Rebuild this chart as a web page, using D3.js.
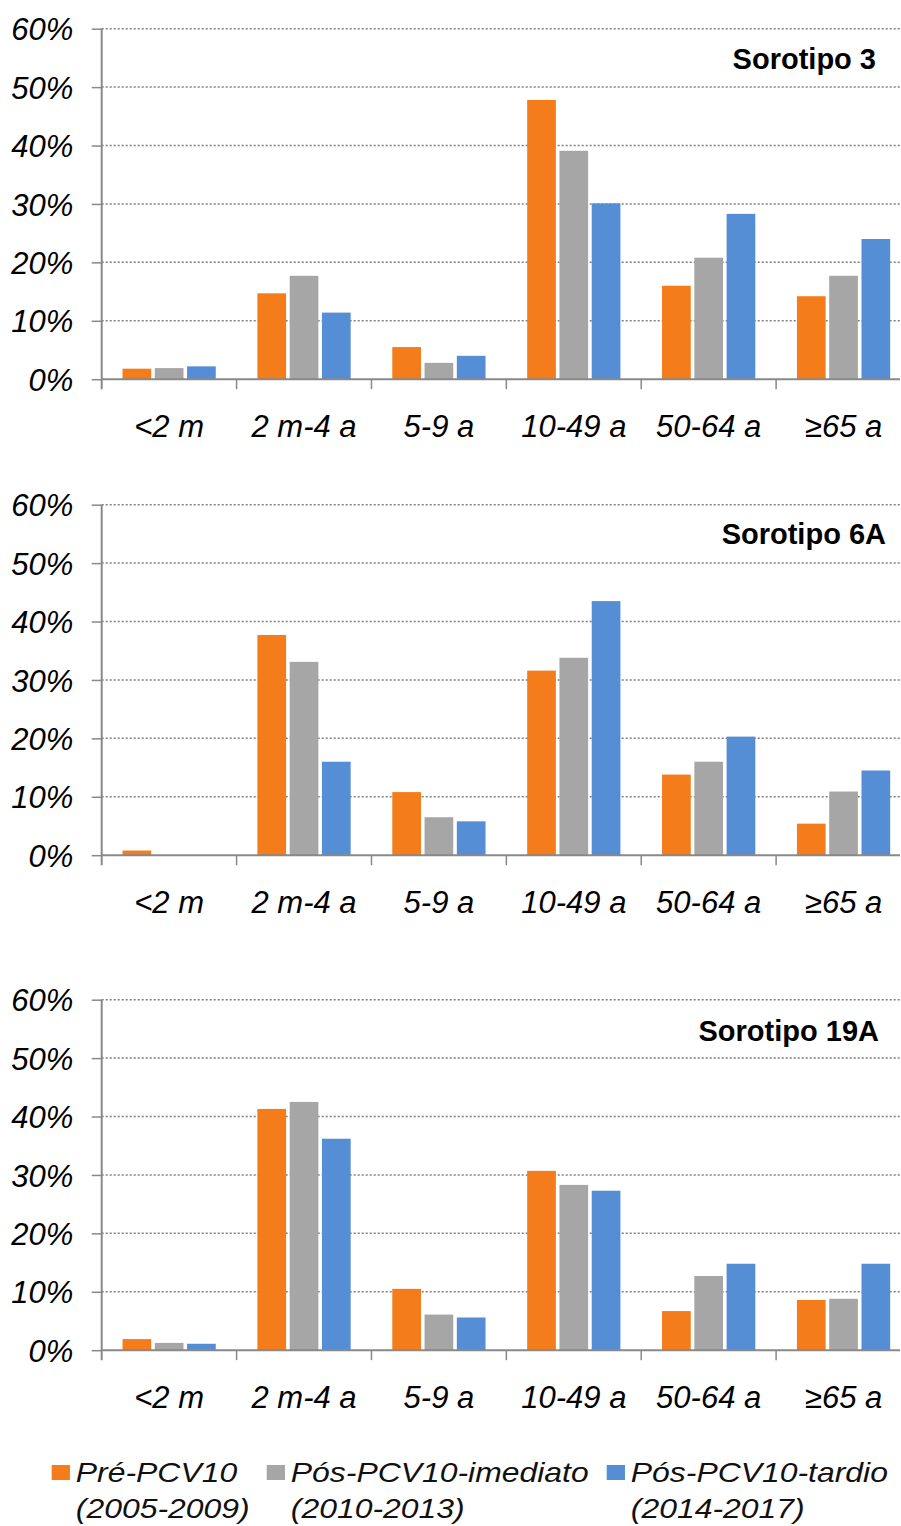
<!DOCTYPE html>
<html>
<head>
<meta charset="utf-8">
<script src="https://cdn.jsdelivr.net/npm/d3@7"></script>
<style>
  html, body { margin: 0; padding: 0; background: #fff; }
  svg { display: block; }
  text { font-family: "Liberation Sans", Arial, sans-serif; }
</style>
</head>
<body>
<svg id="chart" width="901" height="1526"></svg>
<script>
// ---------- DATA ----------
const categories = ["<2 m", "2 m-4 a", "5-9 a", "10-49 a", "50-64 a", "≥65 a"];
const seriesNames = ["Pré-PCV10", "Pós-PCV10-imediato", "Pós-PCV10-tardio"];
const seriesPeriods = ["(2005-2009)", "(2010-2013)", "(2014-2017)"];
const panelTitles = ["Sorotipo 3", "Sorotipo 6A", "Sorotipo 19A"];
const yTickValues = [0, 10, 20, 30, 40, 50, 60];

// values in %, one row per series (Pré, Pós-imediato, Pós-tardio)
const sorotipo3 = [
  [1.8, 14.7, 5.5, 47.8, 16.0, 14.2],
  [1.9, 17.7, 2.8, 39.1, 20.8, 17.7],
  [2.2, 11.4, 4.0, 30.1, 28.3, 24.0]
];
const sorotipo6A = [
  [0.8, 37.7, 10.8, 31.6, 13.8, 5.4],
  [0.0, 33.1, 6.5, 33.8, 16.0, 10.9],
  [0.0, 16.0, 5.8, 43.5, 20.3, 14.5]
];
const sorotipo19A = [
  [1.9, 41.3, 10.5, 30.7, 6.7, 8.6],
  [1.25, 42.5, 6.1, 28.3, 12.7, 8.8],
  [1.1, 36.2, 5.6, 27.3, 14.8, 14.8]
];
const panelData = [sorotipo3, sorotipo6A, sorotipo19A];

// ---------- LAYOUT / STYLE ----------
const colors = ["#F47C1A", "#A6A6A6", "#558ED5"];
const axisColor = "#898989";
const panelTops = [28.7, 504.7, 999.7];
const panelHeight = 350.5;
const plotLeft = 101.7, plotRight = 911, gridRight = 900;
const titleEnds = [876, 886, 879];
const titleOffsets = [40.5, 39.5, 41];

const svg = d3.select("#chart");

const x0 = d3.scaleBand().domain(categories).range([plotLeft, plotRight]).paddingInner(0).paddingOuter(0);
const x1 = d3.scaleBand().domain(seriesNames).range([0, x0.bandwidth()]).paddingInner(0.111).paddingOuter(0.645);

panelData.forEach((data, pi) => {
  const top = panelTops[pi];
  const bottom = top + panelHeight;
  const y = d3.scaleLinear().domain([0, 60]).range([bottom, top]);
  const g = svg.append("g");

  // gridlines (dotted)
  g.append("g").selectAll("line")
    .data(yTickValues.filter(v => v > 0))
    .join("line")
    .attr("x1", plotLeft).attr("x2", gridRight)
    .attr("y1", d => y(d)).attr("y2", d => y(d))
    .attr("stroke", "#7f7f7f").attr("stroke-width", 1.5)
    .attr("stroke-dasharray", "2,2");

  // bars
  const rows = categories.map((c, ci) => ({ c, vals: data.map((s, si) => ({ si, v: s[ci] })) }));
  g.append("g").selectAll("g")
    .data(rows)
    .join("g")
    .attr("transform", d => `translate(${x0(d.c)},0)`)
    .selectAll("rect")
    .data(d => d.vals.filter(e => e.v > 0))
    .join("rect")
    .attr("x", d => x1(seriesNames[d.si]))
    .attr("width", x1.bandwidth())
    .attr("y", d => y(d.v))
    .attr("height", d => y(0) - y(d.v))
    .attr("fill", d => colors[d.si]);

  // y axis
  const yAxis = d3.axisLeft(y).tickValues(yTickValues).tickSize(10).tickPadding(18.5)
    .tickFormat(d => d + "%");
  const ya = g.append("g").attr("transform", `translate(${plotLeft},0)`).call(yAxis);
  ya.select(".domain").remove();
  ya.selectAll(".tick line").attr("stroke", axisColor).attr("stroke-width", 1.5);
  ya.selectAll(".tick text")
    .attr("fill", "#000").attr("font-size", 31).attr("font-style", "italic")
    .attr("dy", "0.36em");

  // vertical axis line (extends down to tick length)
  g.append("line")
    .attr("x1", plotLeft).attr("x2", plotLeft)
    .attr("y1", top).attr("y2", bottom + 10)
    .attr("stroke", axisColor).attr("stroke-width", 2);

  // x axis
  const xAxis = d3.axisBottom(x0).tickSize(0).tickPadding(0);
  const xa = g.append("g").attr("transform", `translate(0,${bottom})`).call(xAxis);
  xa.select(".domain").remove();
  xa.selectAll(".tick text")
    .attr("fill", "#000").attr("font-size", 31).attr("font-style", "italic")
    .attr("y", 57.5).attr("dy", 0);

  g.append("line")
    .attr("x1", plotLeft).attr("x2", gridRight)
    .attr("y1", bottom).attr("y2", bottom)
    .attr("stroke", axisColor).attr("stroke-width", 2);

  // category boundary ticks
  g.append("g").selectAll("line")
    .data(categories.slice(1))
    .join("line")
    .attr("x1", d => x0(d)).attr("x2", d => x0(d))
    .attr("y1", bottom).attr("y2", bottom + 10)
    .attr("stroke", axisColor).attr("stroke-width", 1.5);

  // title
  g.append("text")
    .attr("x", titleEnds[pi]).attr("y", top + titleOffsets[pi])
    .attr("text-anchor", "end")
    .attr("font-size", 29).attr("font-weight", "bold").attr("fill", "#000")
    .text(panelTitles[pi]);
});

// ---------- LEGEND ----------
const legendX = [51.7, 266.7, 606.7];
const legend = svg.append("g");
seriesNames.forEach((name, i) => {
  const item = legend.append("g").attr("transform", `translate(${legendX[i]},0) scale(1.12,1)`);
  item.append("rect")
    .attr("x", 0).attr("y", 1465).attr("width", 16.3).attr("height", 15)
    .attr("fill", colors[i]);
  const t = item.append("text")
    .attr("font-size", 28.5).attr("font-style", "italic").attr("fill", "#111");
  t.append("tspan").attr("x", 21.5).attr("y", 1482).text(name);
  t.append("tspan").attr("x", 21.5).attr("y", 1518).text(seriesPeriods[i]);
});
</script>
</body>
</html>
